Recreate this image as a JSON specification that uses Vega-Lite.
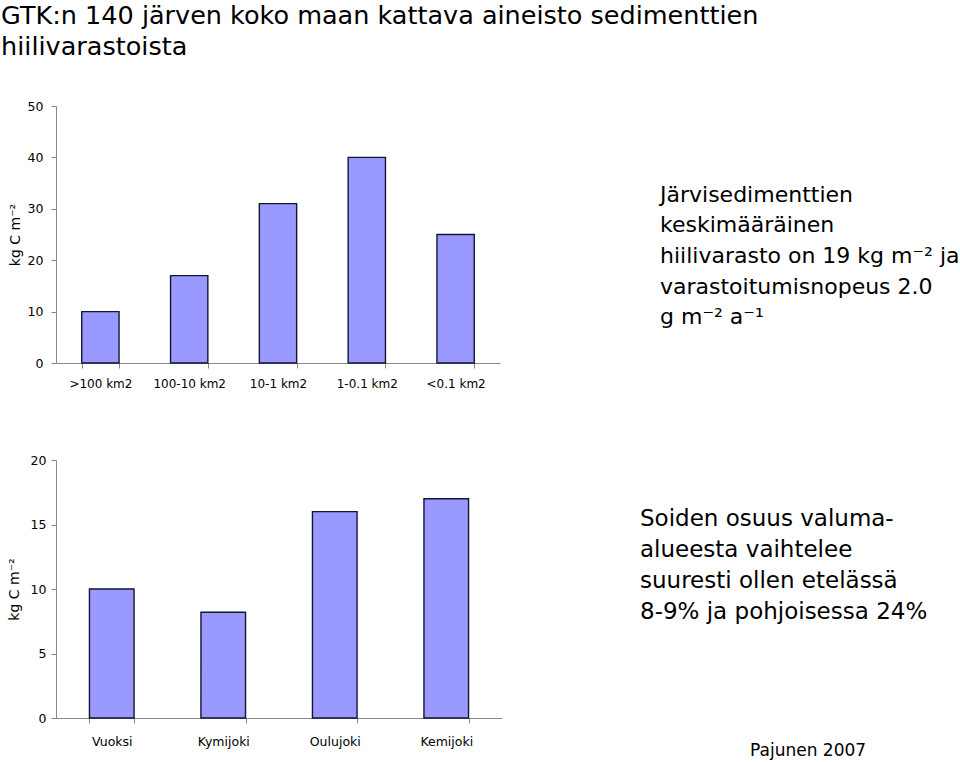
{
  "$schema": "https://vega.github.io/schema/vega-lite/v6.json",
  "autosize": {"type": "none"},
  "padding": {"left": 56, "top": 106, "right": 904, "bottom": 656},
  "background": "white",
  "title": {
    "text": ["GTK:n 140 järven koko maan kattava aineisto sedimenttien", "hiilivarastoista"],
    "anchor": "start",
    "font": "DejaVu Sans",
    "fontSize": 25.5,
    "fontWeight": "normal",
    "color": "black",
    "lineHeight": 31,
    "offset": 40,
    "dx": -6
  },
  "config": {
    "view": {"stroke": null},
    "axis": {
      "labelFont": "DejaVu Sans",
      "labelColor": "black",
      "titleFont": "DejaVu Sans",
      "titleFontWeight": "normal",
      "titleColor": "black",
      "domainColor": "#888888",
      "tickColor": "#888888",
      "grid": false,
      "tickSize": 5
    }
  },
  "bounds": "flush",
  "spacing": 354,
  "vconcat": [
    {
      "bounds": "flush",
      "spacing": 10,
      "hconcat": [
        {
          "width": 444,
          "height": 257,
          "data": {"values": [
            {"size": ">100 km2", "c": 10},
            {"size": "100-10 km2", "c": 17},
            {"size": "10-1 km2", "c": 31},
            {"size": "1-0.1 km2", "c": 40},
            {"size": "<0.1 km2", "c": 25}
          ]},
          "mark": {"type": "bar", "fill": "#9999ff", "stroke": "#141433", "strokeWidth": 1.4},
          "encoding": {
            "x": {"field": "size", "type": "nominal", "sort": null,
              "scale": {"paddingInner": 0.58, "paddingOuter": 0.29},
              "axis": {"title": null, "labelAngle": 0, "tickBand": "extent", "labelPadding": 10, "labelFontSize": 12}},
            "y": {"field": "c", "type": "quantitative",
              "scale": {"domain": [0, 50], "nice": false},
              "axis": {"title": "kg C m⁻²", "values": [0, 10, 20, 30, 40, 50], "labelPadding": 8, "labelFontSize": 12.5, "titleFontSize": 14, "titlePadding": 5}}
          }
        },
        {
          "width": 300,
          "height": 257,
          "data": {"values": [
            {"line": 1, "text": "Järvisedimenttien"},
            {"line": 2, "text": "keskimääräinen"},
            {"line": 3, "text": "hiilivarasto on 19 kg m⁻² ja"},
            {"line": 4, "text": "varastoitumisnopeus 2.0"},
            {"line": 5, "text": "g m⁻² a⁻¹"}
          ]},
          "mark": {"type": "text", "align": "left", "baseline": "alphabetic", "font": "DejaVu Sans", "fontSize": 22, "color": "black"},
          "encoding": {
            "y": {"field": "line", "type": "quantitative", "axis": null,
              "scale": {"domain": [-2.127, 6.27], "reverse": true, "nice": false, "zero": false}},
            "text": {"field": "text"}
          }
        }
      ]
    },
    {
      "bounds": "flush",
      "spacing": 10,
      "hconcat": [
        {
          "width": 446,
          "height": 258,
          "data": {"values": [
            {"river": "Vuoksi", "c": 10},
            {"river": "Kymijoki", "c": 8.2},
            {"river": "Oulujoki", "c": 16},
            {"river": "Kemijoki", "c": 17}
          ]},
          "mark": {"type": "bar", "fill": "#9999ff", "stroke": "#141433", "strokeWidth": 1.4},
          "encoding": {
            "x": {"field": "river", "type": "nominal", "sort": null,
              "scale": {"paddingInner": 0.6, "paddingOuter": 0.3},
              "axis": {"title": null, "labelAngle": 0, "tickBand": "extent", "labelPadding": 12, "labelFontSize": 12.5}},
            "y": {"field": "c", "type": "quantitative",
              "scale": {"domain": [0, 20], "nice": false},
              "axis": {"title": "kg C m⁻²", "values": [0, 5, 10, 15, 20], "labelPadding": 5, "labelFontSize": 12.5, "titleFontSize": 14, "titlePadding": 9}}
          }
        },
        {
          "width": 256,
          "height": 258,
          "layer": [
            {
              "data": {"values": [
                {"line": 1, "text": "Soiden osuus valuma-"},
                {"line": 2, "text": "alueesta vaihtelee"},
                {"line": 3, "text": "suuresti ollen etelässä"},
                {"line": 4, "text": "8-9% ja pohjoisessa 24%"}
              ]},
              "mark": {"type": "text", "align": "left", "baseline": "alphabetic", "font": "DejaVu Sans", "fontSize": 23, "color": "black"},
              "encoding": {
                "y": {"field": "line", "type": "quantitative", "axis": null,
                  "scale": {"domain": [-1.13, 7.19], "reverse": true, "nice": false, "zero": false}},
                "text": {"field": "text"}
              }
            },
            {
              "data": {"values": [{"line": 8.4, "text": "Pajunen 2007"}]},
              "mark": {"type": "text", "align": "left", "baseline": "alphabetic", "font": "DejaVu Sans", "fontSize": 17, "color": "black", "dx": 110},
              "encoding": {
                "y": {"field": "line", "type": "quantitative", "axis": null},
                "text": {"field": "text"}
              }
            }
          ]
        }
      ]
    }
  ]
}
